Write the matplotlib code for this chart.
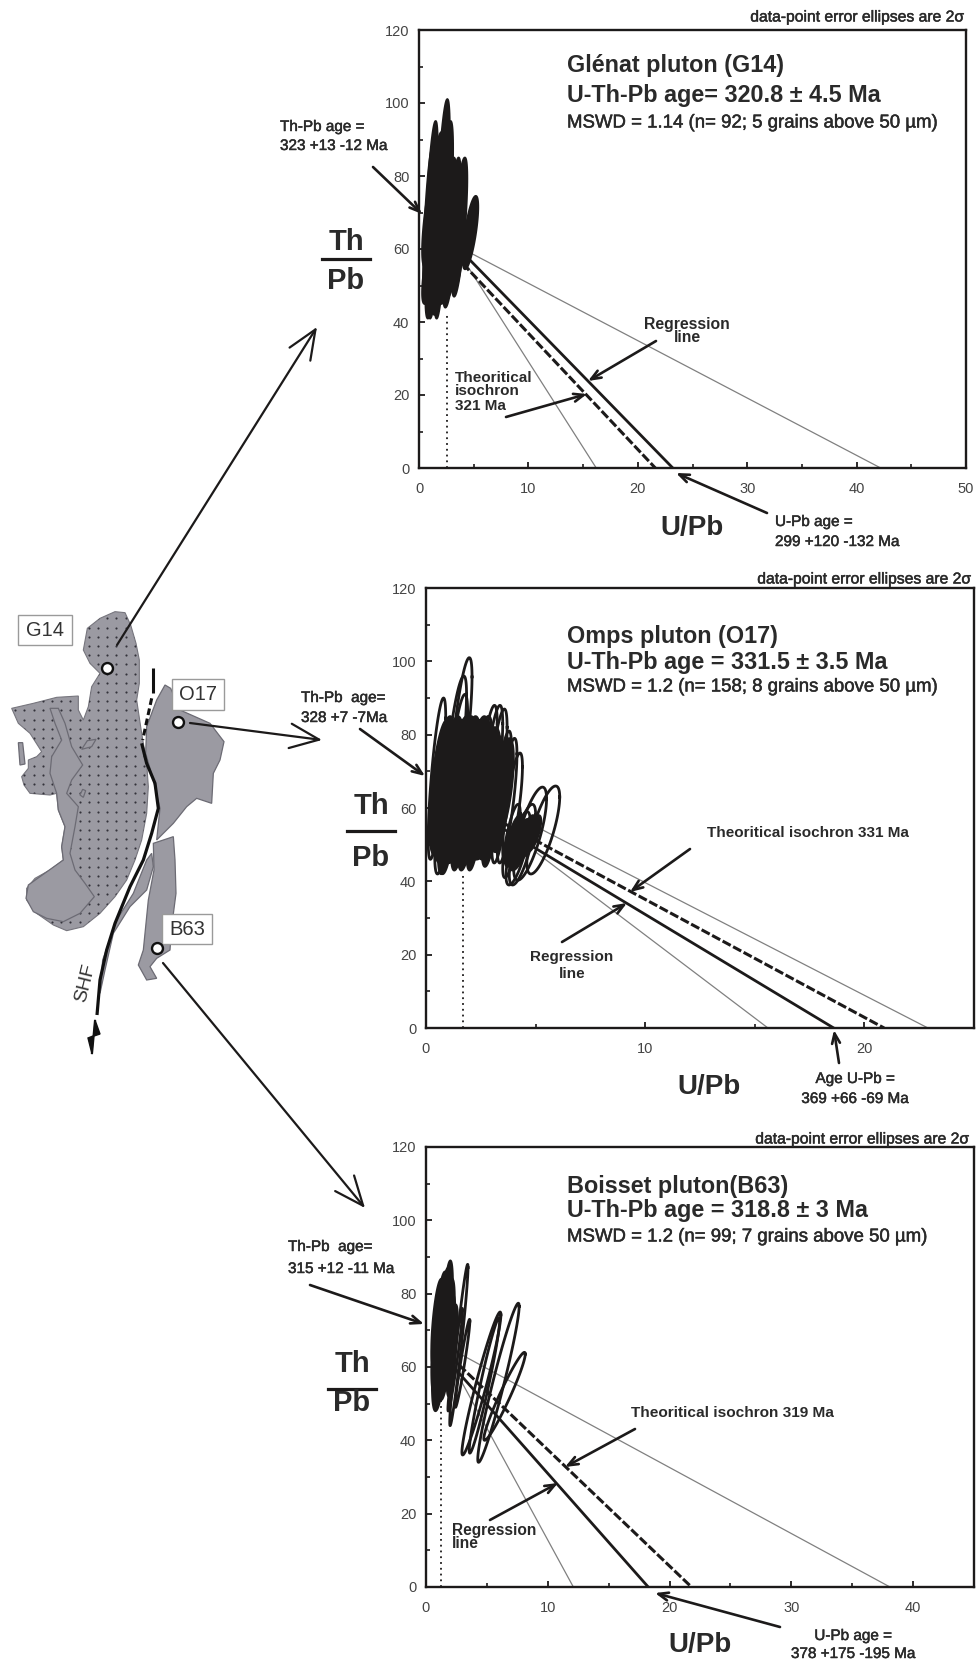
import numpy as np
import matplotlib
matplotlib.use('Agg')
import matplotlib.pyplot as plt
import matplotlib.patheffects as pe
from matplotlib.patches import Polygon, Rectangle

plt.rcParams['font.family'] = ['Liberation Sans', 'DejaVu Sans']

W, H = 976, 1666
INK = '#1c1a1a'
TICK = '#444444'
GREY = '#9b9aa2'

## ellipses: centre, half widths, correlation. filled ones make up the black blobs
g14_cx = [1.1, 1.5, 2.1, 1.3, 1.9, 2.4, 2.7, 2.9, 3.2, 3.7, 2.6, 1.0, 1.5, 4.7, 3.6, 2.2, 1.8, 0.9, 3.0,
          1.2, 2.0, 2.7, 3.3, 1.0]
g14_cy = [70, 66, 71, 60, 62, 70, 66, 62, 67, 66, 58, 62, 72, 64.5, 60, 58, 68, 68, 57,
          70, 69, 64, 62, 55]
g14_sx = [0.6, 0.7, 0.7, 0.7, 0.7, 0.7, 0.7, 0.7, 0.6, 0.7, 0.8, 0.6, 0.8, 0.7, 0.6, 0.8, 0.8, 0.5, 0.8,
          0.9, 0.9, 0.9, 0.7, 0.7]
g14_sy = [25, 25, 30, 19, 20, 25, 19, 18, 18, 19, 13, 17, 20, 10, 12, 14, 18, 20, 11,
          15, 16, 14, 13, 10]

o17_cx = [0.65, 0.9, 1.1, 1.3, 1.5, 1.7, 1.9, 2.1, 2.3, 2.5, 2.7, 2.9, 3.1, 0.7, 1.0, 1.4, 1.8, 2.2,
          2.6, 3.0, 3.3, 0.8, 1.2, 1.6, 2.0, 2.4, 2.8, 1.0, 1.85, 2.5, 3.4, 0.9, 1.5, 2.2, 2.9, 3.5]
o17_cy = [66, 64, 66, 65, 66, 67, 66, 65, 66, 65, 64, 63, 62, 60, 58, 57, 58, 59, 58, 60, 62, 70, 68,
          69, 68, 68, 67, 56, 56, 56, 60, 55, 54, 55, 55, 65]
o17_sx = [0.5, 0.6, 0.6, 0.6, 0.6, 0.6, 0.6, 0.6, 0.6, 0.6, 0.6, 0.6, 0.5, 0.5, 0.6, 0.6, 0.6, 0.6,
          0.6, 0.6, 0.5, 0.5, 0.6, 0.6, 0.6, 0.6, 0.6, 0.4, 0.4, 0.4, 0.4, 0.35, 0.35, 0.35, 0.35, 0.5]
o17_sy = [18, 18, 19, 19, 19, 18, 19, 19, 19, 18, 18, 17, 16, 13, 13, 12, 12, 12, 12, 12, 12, 15, 16,
          16, 16, 16, 15, 14, 13, 10, 12, 13, 11, 12, 11, 14]
o17_open_cx = [1.6, 1.35, 1.4, 0.5, 2.75, 3.0, 3.2, 3.45, 3.95, 3.7, 3.9, 4.75, 5.35, 4.4, 4.2, 0.9, 2.4]
o17_open_cy = [80, 76, 70, 68, 68, 68, 67, 63, 60, 62, 51, 53, 54, 50, 49, 62, 66]
o17_open_sx = [0.5, 0.5, 0.5, 0.4, 0.5, 0.5, 0.5, 0.45, 0.45, 0.45, 0.4, 0.75, 0.75, 0.6, 0.55, 0.5, 0.6]
o17_open_sy = [21, 20, 21, 22, 20, 20, 20, 18, 15, 17, 10, 12.7, 12, 11, 10, 20, 19]
o17_core_cx = [4.3, 4.6, 4.0, 4.9]
o17_core_cy = [50, 52, 51, 53]
o17_core_sx = [0.5, 0.4, 0.4, 0.35]
o17_core_sy = [7, 6, 7, 5]

b63_cx = [0.95, 1.2, 1.45, 1.7, 1.85, 1.6, 1.1, 1.35, 1.9, 2.1, 1.5, 1.2, 0.95, 1.3, 1.8, 2.2]
b63_cy = [68, 70, 70, 72, 70, 66, 64, 63, 66, 64, 62, 66, 72, 74, 68, 68]
b63_sx = [0.5, 0.6, 0.6, 0.5, 0.5, 0.6, 0.5, 0.6, 0.5, 0.4, 0.5, 0.7, 0.5, 0.6, 0.6, 0.4]
b63_sy = [15, 16, 17, 17, 14, 15, 10, 10, 10, 12, 10, 18, 12, 11, 12, 9]
b63_open_cx = [2.7, 4.55, 4.8, 5.95, 6.45, 3.0, 2.4]
b63_open_cy = [66, 55.5, 55, 55.7, 52, 61, 62]
b63_open_sx = [0.75, 1.6, 1.25, 1.7, 1.7, 0.6, 0.6]
b63_open_sy = [22, 19.5, 18.5, 21.7, 12, 12, 14]

## regression lines, (x start, y start, x at y=0)
g14_reg = (4.0, 59, 23.2)
g14_iso = (4.0, 56, 21.6)
g14_low = (4.5, 55, 16.2)
g14_up = (4.66, 59, 42.2)
g14_drop = (2.6, 42)

o17_reg = (3.0, 56.2, 18.6)
o17_iso = (3.0, 57.6, 20.9)
o17_low = (5.0, 48, 15.6)
o17_up = (5.0, 55, 22.9)
o17_drop = (1.7, 42)

b63_reg = (2.0, 61, 18.25)
b63_iso = (2.0, 62.8, 21.8)
b63_low = (2.0, 61.6, 12.1)
b63_up = (2.0, 65, 38.1)
b63_drop = (1.2, 52)

## map outlines, in pixels of a 3x crop starting at y=560
pluton_outline = [(345, 155), (375, 158), (392, 195), (408, 250), (418, 300), (418, 370), (410, 420), (425, 520),
                  (440, 610), (445, 680), (440, 760), (425, 840), (405, 900), (380, 960), (345, 1010), (300, 1060),
                  (250, 1100), (200, 1112), (160, 1095), (110, 1060), (80, 1020), (80, 985), (105, 955), (150, 930),
                  (190, 900), (185, 860), (195, 800), (175, 750), (170, 700), (150, 705), (90, 700), (72, 675),
                  (65, 650), (85, 625), (85, 600), (110, 590), (125, 575), (90, 520), (55, 490), (35, 445),
                  (100, 430), (170, 412), (235, 408), (235, 450), (250, 480), (265, 440), (275, 380), (300, 340),
                  (270, 310), (250, 270), (262, 205), (300, 175)]
strip_outline = [(150, 445), (175, 445), (195, 490), (215, 560), (248, 615), (215, 660), (200, 700), (235, 740),
                 (225, 800), (210, 880), (225, 930), (255, 970), (283, 1010), (240, 1060), (190, 1085), (140, 1075),
                 (100, 1055), (78, 1015), (85, 975), (120, 950), (190, 900), (185, 860), (195, 800), (175, 750),
                 (170, 700), (150, 640), (155, 590), (185, 540), (165, 490)]
islet_a = [(245, 568), (262, 542), (288, 538), (275, 560)]
islet_b = [(240, 705), (248, 688), (257, 692), (250, 712)]
islet_c = [(55, 548), (68, 548), (75, 612), (60, 615)]
o17_outline = [(495, 375), (512, 385), (540, 450), (630, 490), (672, 545), (660, 600), (640, 640), (635, 730),
               (590, 715), (560, 740), (520, 790), (470, 840), (480, 745), (460, 660), (437, 580), (440, 500),
               (470, 420)]
b63_outline = [(460, 850), (520, 830), (525, 900), (528, 1000), (515, 1100), (510, 1170), (470, 1195), (450, 1220),
               (470, 1255), (440, 1260), (415, 1215), (430, 1170), (445, 1020), (462, 930)]
sliver_outline = [(455, 880), (460, 920), (440, 990), (390, 1040), (340, 1120), (315, 1230), (300, 1300), (308, 1200),
                  (350, 1080), (400, 1000), (440, 900)]
fault_line = [(425, 550), (440, 610), (465, 670), (475, 745), (455, 820), (430, 900), (390, 980), (345, 1090),
              (320, 1170), (300, 1260), (291, 1365)]
fault_north = [(458, 325), (458, 400)]
fault_dash = [(455, 415), (428, 540)]
sample_sites = [(320, 323), (533, 485), (470, 1165)]


def crop(points):
    return [(x / 3, 560 + y / 3) for x, y in points]


def draw_ellipses(ax, cx, cy, sx, sy, rho, filled):
    t = np.linspace(0, 2 * np.pi, 90)
    for a, b, c, d in zip(cx, cy, sx, sy):
        x = a + c * np.cos(t)
        y = b + d * (rho * np.cos(t) + np.sqrt(1 - rho ** 2) * np.sin(t))
        if filled:
            ax.fill(x, y, color=INK, lw=1.6, zorder=4)
        else:
            ax.plot(x, y, color=INK, lw=2.0, zorder=3)


def draw_lines(ax, reg, iso, low, up, drop):
    for x0, y0, x1 in (low, up):
        ax.plot([x0, x1], [y0, 0], color='#808080', lw=0.9, zorder=2)
    ax.plot([reg[0], reg[2]], [reg[1], 0], color=INK, lw=2.0, zorder=2)
    ax.plot([iso[0], iso[2]], [iso[1], 0], color=INK, lw=2.2, ls=(0, (3, 0.9)), zorder=2)
    ax.plot([drop[0], drop[0]], [0, drop[1]], color=INK, lw=1.3, ls=(0, (1, 2.2)), zorder=2)


def panel(left, right, y0, y120, xmax, xlabels):
    ax = fig.add_axes([left / W, 1 - y0 / H, (right - left) / W, (y0 - y120) / H])
    ax.set_xlim(0, xmax)
    ax.set_ylim(0, 120)
    for s in ax.spines.values():
        s.set_linewidth(1.7)
        s.set_color(INK)
    ax.set_xticks(xlabels)
    ax.set_xticks(np.arange(5, xmax, 10), minor=True)
    ax.set_yticks([0, 20, 40, 60, 80, 100, 120])
    ax.set_yticks([10, 30, 50, 70, 90, 110], minor=True)
    ax.tick_params(which='major', direction='in', length=4.5, width=1.3, color=INK, labelsize=10.5,
                   labelcolor=TICK)
    ax.tick_params(which='minor', direction='in', length=3, width=1.2, color=INK)
    ax.tick_params(axis='x', which='major', pad=10)
    ax.tick_params(axis='y', which='major', pad=7)
    return ax


def arrow(p, q, lw=1.9, scale=13, style='->,head_length=0.55,head_width=0.22'):
    ov.annotate('', xy=q, xytext=p, arrowprops=dict(arrowstyle=style, color=INK, lw=lw, mutation_scale=scale,
                                                    shrinkA=0, shrinkB=0))


def label(x, y, s, size=11, weight='normal', ha='left', color='#2a2a2a', **kw):
    t = ov.text(x, y, s, fontsize=size, fontweight=weight, ha=ha, va='center', color=color, **kw)
    if weight == 'normal':
        # the scan has heavier strokes than the plain face
        t.set_path_effects([pe.withStroke(linewidth=0.35, foreground=color)])


def ratio(x, y_th, y_bar, y_pb):
    label(x, y_th, 'Th', size=21, weight='bold', ha='center')
    ov.plot([x - 24, x + 24], [y_bar, y_bar], color=INK, lw=2.3)
    label(x, y_pb, 'Pb', size=21, weight='bold', ha='center')


fig = plt.figure(figsize=(W / 100, H / 100), dpi=100)

ax1 = panel(419, 966, 468, 30, 50, [0, 10, 20, 30, 40, 50])
draw_lines(ax1, g14_reg, g14_iso, g14_low, g14_up, g14_drop)
draw_ellipses(ax1, g14_cx, g14_cy, g14_sx, g14_sy, 0.7, True)

ax2 = panel(426, 974, 1028, 588, 25, [0, 10, 20])
draw_lines(ax2, o17_reg, o17_iso, o17_low, o17_up, o17_drop)
draw_ellipses(ax2, o17_open_cx, o17_open_cy, o17_open_sx, o17_open_sy, 0.75, False)
draw_ellipses(ax2, o17_cx, o17_cy, o17_sx, o17_sy, 0.6, True)
draw_ellipses(ax2, o17_core_cx, o17_core_cy, o17_core_sx, o17_core_sy, 0.7, True)

ax3 = panel(426, 974, 1587, 1147, 45, [0, 10, 20, 30, 40])
draw_lines(ax3, b63_reg, b63_iso, b63_low, b63_up, b63_drop)
draw_ellipses(ax3, b63_open_cx, b63_open_cy, b63_open_sx, b63_open_sy, 0.96, False)
draw_ellipses(ax3, b63_cx, b63_cy, b63_sx, b63_sy, 0.6, True)

## overlay in image pixels for the map, notes and arrows
ov = fig.add_axes([0, 0, 1, 1], facecolor='none')
ov.set_xlim(0, W)
ov.set_ylim(H, 0)
ov.axis('off')

pluton = Polygon(crop(pluton_outline), fc=GREY, ec='#77767e', lw=0.8, zorder=1)
ov.add_patch(pluton)
gx, gy = np.meshgrid(np.arange(6, 160, 9.2), np.arange(600, 940, 9.2))
dots = ov.scatter(gx.ravel(), gy.ravel(), s=2.4, color='#33323a', lw=0, zorder=2)
dots.set_clip_path(pluton)
for pts in (strip_outline, islet_a, islet_b, islet_c, o17_outline, b63_outline, sliver_outline):
    ov.add_patch(Polygon(crop(pts), fc=GREY, ec='#6c6b74', lw=0.9, zorder=3))
ov.plot(*zip(*crop(fault_line)), color='#111111', lw=2.3, zorder=4, solid_capstyle='butt')
ov.plot(*zip(*crop(fault_north)), color='#111111', lw=2.2, zorder=4, solid_capstyle='butt')
ov.plot(*zip(*crop(fault_dash)), color='#111111', lw=2.2, ls=(0, (2.2, 1.2)), zorder=4)
ov.plot([95, 92], [1021, 1053], color='#111111', lw=1.6, zorder=4)
ov.add_patch(Polygon([(88, 1038), (93, 1036), (92, 1054)], fc='#111111', ec='#111111', zorder=4))
ov.add_patch(Polygon([(95, 1020), (100, 1034), (94, 1036)], fc='#111111', ec='#111111', zorder=4))

for x0, y0, x1, y1, name in ((18, 615, 72, 645, 'G14'), (172, 679, 224, 710, 'O17'), (162, 914, 212, 944, 'B63')):
    ov.add_patch(Rectangle((x0, y0), x1 - x0, y1 - y0, fc='white', ec='#9a9a9a', lw=1.0, zorder=5))
    ov.text((x0 + x1) / 2, (y0 + y1) / 2, name, fontsize=14.5, ha='center', va='center', color='#333333', zorder=6)
for x, y in crop(sample_sites):
    ov.scatter([x], [y], s=62, fc='white', ec='#111111', lw=1.7, zorder=6)
ov.text(85, 983, 'SHF', fontsize=14, rotation=76, ha='center', va='center', color='#333333')

## big open arrows from map to the panels
big = '->,head_length=1.0,head_width=0.42'
arrow((117, 645), (317, 327), lw=1.6, scale=21, style=big)
arrow((190, 723), (322, 740), lw=1.6, scale=21, style=big)
arrow((163, 963), (365, 1208), lw=1.6, scale=21, style=big)

## panel 1
label(965, 17, 'data-point error ellipses are 2\u03c3', size=11.3, ha='right')
label(567, 65, 'Gl\u00e9nat pluton (G14)', size=16.8, weight='bold')
label(567, 95, 'U-Th-Pb age= 320.8 \u00b1 4.5 Ma', size=16.8, weight='bold')
label(567, 123, 'MSWD = 1.14 (n= 92; 5 grains above 50 \u00b5m)', size=13.4)
label(280, 127, 'Th-Pb age =', size=11)
label(280, 146, '323 +13 -12 Ma', size=11)
arrow((373, 167), (422, 214))
ratio(346, 242, 259, 281)
label(687, 324, 'Regression', size=11.3, weight='bold', ha='center')
label(687, 337, 'line', size=11.3, weight='bold', ha='center')
arrow((656, 341), (588, 381))
label(455, 378, 'Theoritical', size=11, weight='bold')
label(455, 391, 'isochron', size=11, weight='bold')
label(455, 406, '321 Ma', size=11, weight='bold')
arrow((506, 417), (587, 394))
label(692, 528, 'U/Pb', size=20, weight='bold', ha='center')
label(775, 522, 'U-Pb age =', size=11)
label(775, 542, '299 +120 -132 Ma', size=11)
arrow((767, 513), (676, 473))

## panel 2
label(972, 579, 'data-point error ellipses are 2\u03c3', size=11.3, ha='right')
label(567, 637, 'Omps pluton (O17)', size=16.8, weight='bold')
label(567, 662, 'U-Th-Pb age = 331.5 \u00b1 3.5 Ma', size=16.8, weight='bold')
label(567, 687, 'MSWD = 1.2 (n= 158; 8 grains above 50 \u00b5m)', size=13.4)
label(301, 698, 'Th-Pb  age=', size=11)
label(301, 718, '328 +7 -7Ma', size=11)
arrow((360, 729), (425, 776))
ratio(371, 806, 831, 858)
label(707, 833, 'Theoritical isochron 331 Ma', size=11, weight='bold')
arrow((690, 849), (630, 892))
label(572, 957, 'Regression', size=11, weight='bold', ha='center')
label(572, 974, 'line', size=11, weight='bold', ha='center')
arrow((562, 942), (627, 903))
label(709, 1087, 'U/Pb', size=20, weight='bold', ha='center')
label(855, 1079, 'Age U-Pb =', size=11, ha='center')
label(855, 1099, '369 +66 -69 Ma', size=11, ha='center')
arrow((839, 1063), (834, 1030))

## panel 3
label(970, 1139, 'data-point error ellipses are 2\u03c3', size=11.3, ha='right')
label(567, 1187, 'Boisset pluton(B63)', size=16.8, weight='bold')
label(567, 1211, 'U-Th-Pb age = 318.8 \u00b1 3 Ma', size=16.8, weight='bold')
label(567, 1237, 'MSWD = 1.2 (n= 99; 7 grains above 50 \u00b5m)', size=13.4)
label(288, 1247, 'Th-Pb  age=', size=11)
label(288, 1269, '315 +12 -11 Ma', size=11)
arrow((310, 1285), (424, 1324))
ratio(352, 1364, 1389, 1403)
label(631, 1413, 'Theoritical isochron 319 Ma', size=11.1, weight='bold')
arrow((635, 1429), (565, 1467))
label(452, 1530, 'Regression', size=11.2, weight='bold')
label(452, 1543, 'line', size=11.2, weight='bold')
arrow((490, 1520), (558, 1483))
label(700, 1645, 'U/Pb', size=20, weight='bold', ha='center')
label(853, 1636, 'U-Pb age =', size=11, ha='center')
label(853, 1654, '378 +175 -195 Ma', size=11, ha='center')
arrow((780, 1627), (655, 1593))

fig.savefig('out.png', dpi=100)
